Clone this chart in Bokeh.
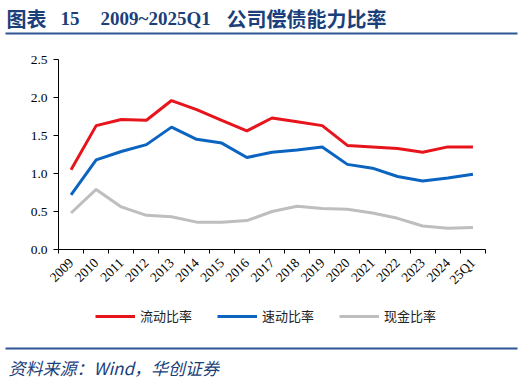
from bokeh.plotting import figure
from bokeh.layouts import column
from bokeh.models import (Range1d, FixedTicker, Label, BoxAnnotation, Legend, LegendItem)
from bokeh.embed import file_html
from bokeh.resources import INLINE

categories = ["2009", "2010", "2011", "2012", "2013", "2014", "2015", "2016", "2017",
              "2018", "2019", "2020", "2021", "2022", "2023", "2024", "25Q1"]
current_ratio = [1.05, 1.63, 1.71, 1.70, 1.96, 1.84, 1.70, 1.56, 1.73, 1.68, 1.63,
                 1.37, 1.35, 1.33, 1.28, 1.35, 1.35]
quick_ratio = [0.72, 1.18, 1.29, 1.38, 1.61, 1.45, 1.40, 1.21, 1.28, 1.31, 1.35,
               1.12, 1.07, 0.96, 0.90, 0.94, 0.99]
cash_ratio = [0.48, 0.79, 0.56, 0.45, 0.43, 0.36, 0.36, 0.38, 0.50, 0.57, 0.54,
              0.53, 0.48, 0.41, 0.31, 0.28, 0.29]
y_ticks = [0.0, 0.5, 1.0, 1.5, 2.0, 2.5]
series_names = ["流动比率", "速动比率", "现金比率"]
colors = ["#E8141C", "#0A64C0", "#BEBEBE"]

W = 524
HEAD_H, MAIN_H, FOOT_H = 40, 260, 82
FL, FR, FT, FB = 58, 485, 59, 249   # frame edges of the chart in page pixels
serif = "Liberation Serif"
cjk = "Noto Sans CJK SC"
title_color = "#1B3F7A"
rule_color = "#2F5597"


def blank(h):
    f = figure(width=W, height=h, output_backend="svg", toolbar_location=None,
               x_axis_location=None, y_axis_location=None,
               x_range=Range1d(0, W), y_range=Range1d(0, h),
               min_border=0, min_border_left=0, min_border_right=0,
               min_border_top=0, min_border_bottom=0)
    f.outline_line_color = None
    f.xgrid.visible = False
    f.ygrid.visible = False
    f.border_fill_color = "white"
    f.background_fill_color = "white"
    f.frame_align = False
    return f


def rule(f, h, top_px):
    f.add_layout(BoxAnnotation(left=5, right=517, top=h - top_px, bottom=h - top_px - 2,
                               left_units="screen", right_units="screen",
                               top_units="screen", bottom_units="screen",
                               fill_color=rule_color, fill_alpha=1, line_color=None))


# ---------- header ----------
head = blank(HEAD_H)
for txt, px, font, size in [("图表", 6, cjk, "20px"),
                            ("15", 60, serif, "19px"),
                            ("2009~2025Q1", 100, serif, "19px"),
                            ("公司偿债能力比率", 226, cjk, "20px")]:
    head.add_layout(Label(x=px, y=HEAD_H - 18, x_units="screen", y_units="screen",
                          text=txt, text_font=font, text_font_style="bold",
                          text_baseline="middle", text_font_size=size,
                          text_color=title_color))
rule(head, HEAD_H, 32)

# ---------- main chart ----------
top0 = HEAD_H
p = figure(width=W, height=MAIN_H, output_backend="svg", toolbar_location=None,
           x_range=Range1d(-0.5, len(categories) - 0.5), y_range=Range1d(0, 2.5),
           min_border_left=FL, min_border_right=W - FR, min_border_top=FT - top0,
           min_border_bottom=top0 + MAIN_H - FB)
p.frame_align = False
p.outline_line_color = None
p.xgrid.visible = False
p.ygrid.visible = False
p.background_fill_color = "white"
p.border_fill_color = "white"

xs = list(range(len(categories)))
p.xaxis.ticker = FixedTicker(ticks=xs, minor_ticks=[i - 0.5 for i in range(len(categories) + 1)])
p.xaxis.major_label_overrides = {i: c for i, c in enumerate(categories)}
p.xaxis.major_tick_out = 0
p.xaxis.major_tick_in = 0
p.xaxis.minor_tick_out = 4
p.xaxis.minor_tick_in = 0
p.xaxis.minor_tick_line_color = "black"
p.xaxis.axis_line_color = "black"
p.xaxis.major_label_orientation = 0.785398
p.xaxis.major_label_text_font = serif
p.xaxis.major_label_text_font_size = "13.5px"
p.xaxis.major_label_text_color = "black"
p.xaxis.major_label_standoff = 7

p.yaxis.ticker = FixedTicker(ticks=y_ticks, minor_ticks=[])
p.yaxis.major_label_overrides = {t: f"{t:.1f}" for t in y_ticks}
p.yaxis.major_tick_out = 5
p.yaxis.major_tick_in = 0
p.yaxis.axis_line_color = "black"
p.yaxis.major_tick_line_color = "black"
p.yaxis.major_label_text_font = serif
p.yaxis.major_label_text_font_size = "13.5px"
p.yaxis.major_label_text_color = "black"
p.yaxis.major_label_standoff = 6

for vals, col in zip([current_ratio, quick_ratio, cash_ratio], colors):
    p.line(xs, vals, line_color=col, line_width=3)

# ---------- footer: legend, rule, source ----------
foot = blank(FOOT_H)
top2 = HEAD_H + MAIN_H
# legend keys: off-screen line renderers so the legend can draw their glyphs
keys = [foot.line([-20, -10], [-20, -20], line_color=col, line_width=3) for col in colors]
legend = Legend(items=[LegendItem(label=n, renderers=[r]) for n, r in zip(series_names, keys)],
                orientation="horizontal", location=(95, FOOT_H - (317 - top2) - 8),
                glyph_width=40, glyph_height=16, label_height=16,
                label_text_font=cjk, label_text_font_size="13px", label_text_color="#222222",
                spacing=25, label_standoff=5, padding=0, margin=0,
                border_line_color=None, background_fill_alpha=0)
foot.add_layout(legend, "center")
rule(foot, FOOT_H, 347 - top2)
foot.add_layout(Label(x=8, y=FOOT_H - (367 - top2), x_units="screen", y_units="screen",
                      text="资料来源：Wind，华创证券", text_font=cjk,
                      text_baseline="middle",
                      text_font_style="italic", text_font_size="17px", text_color=title_color))

layout = column(head, p, foot, spacing=0)
open("out.html", "w").write(file_html(layout, INLINE))
